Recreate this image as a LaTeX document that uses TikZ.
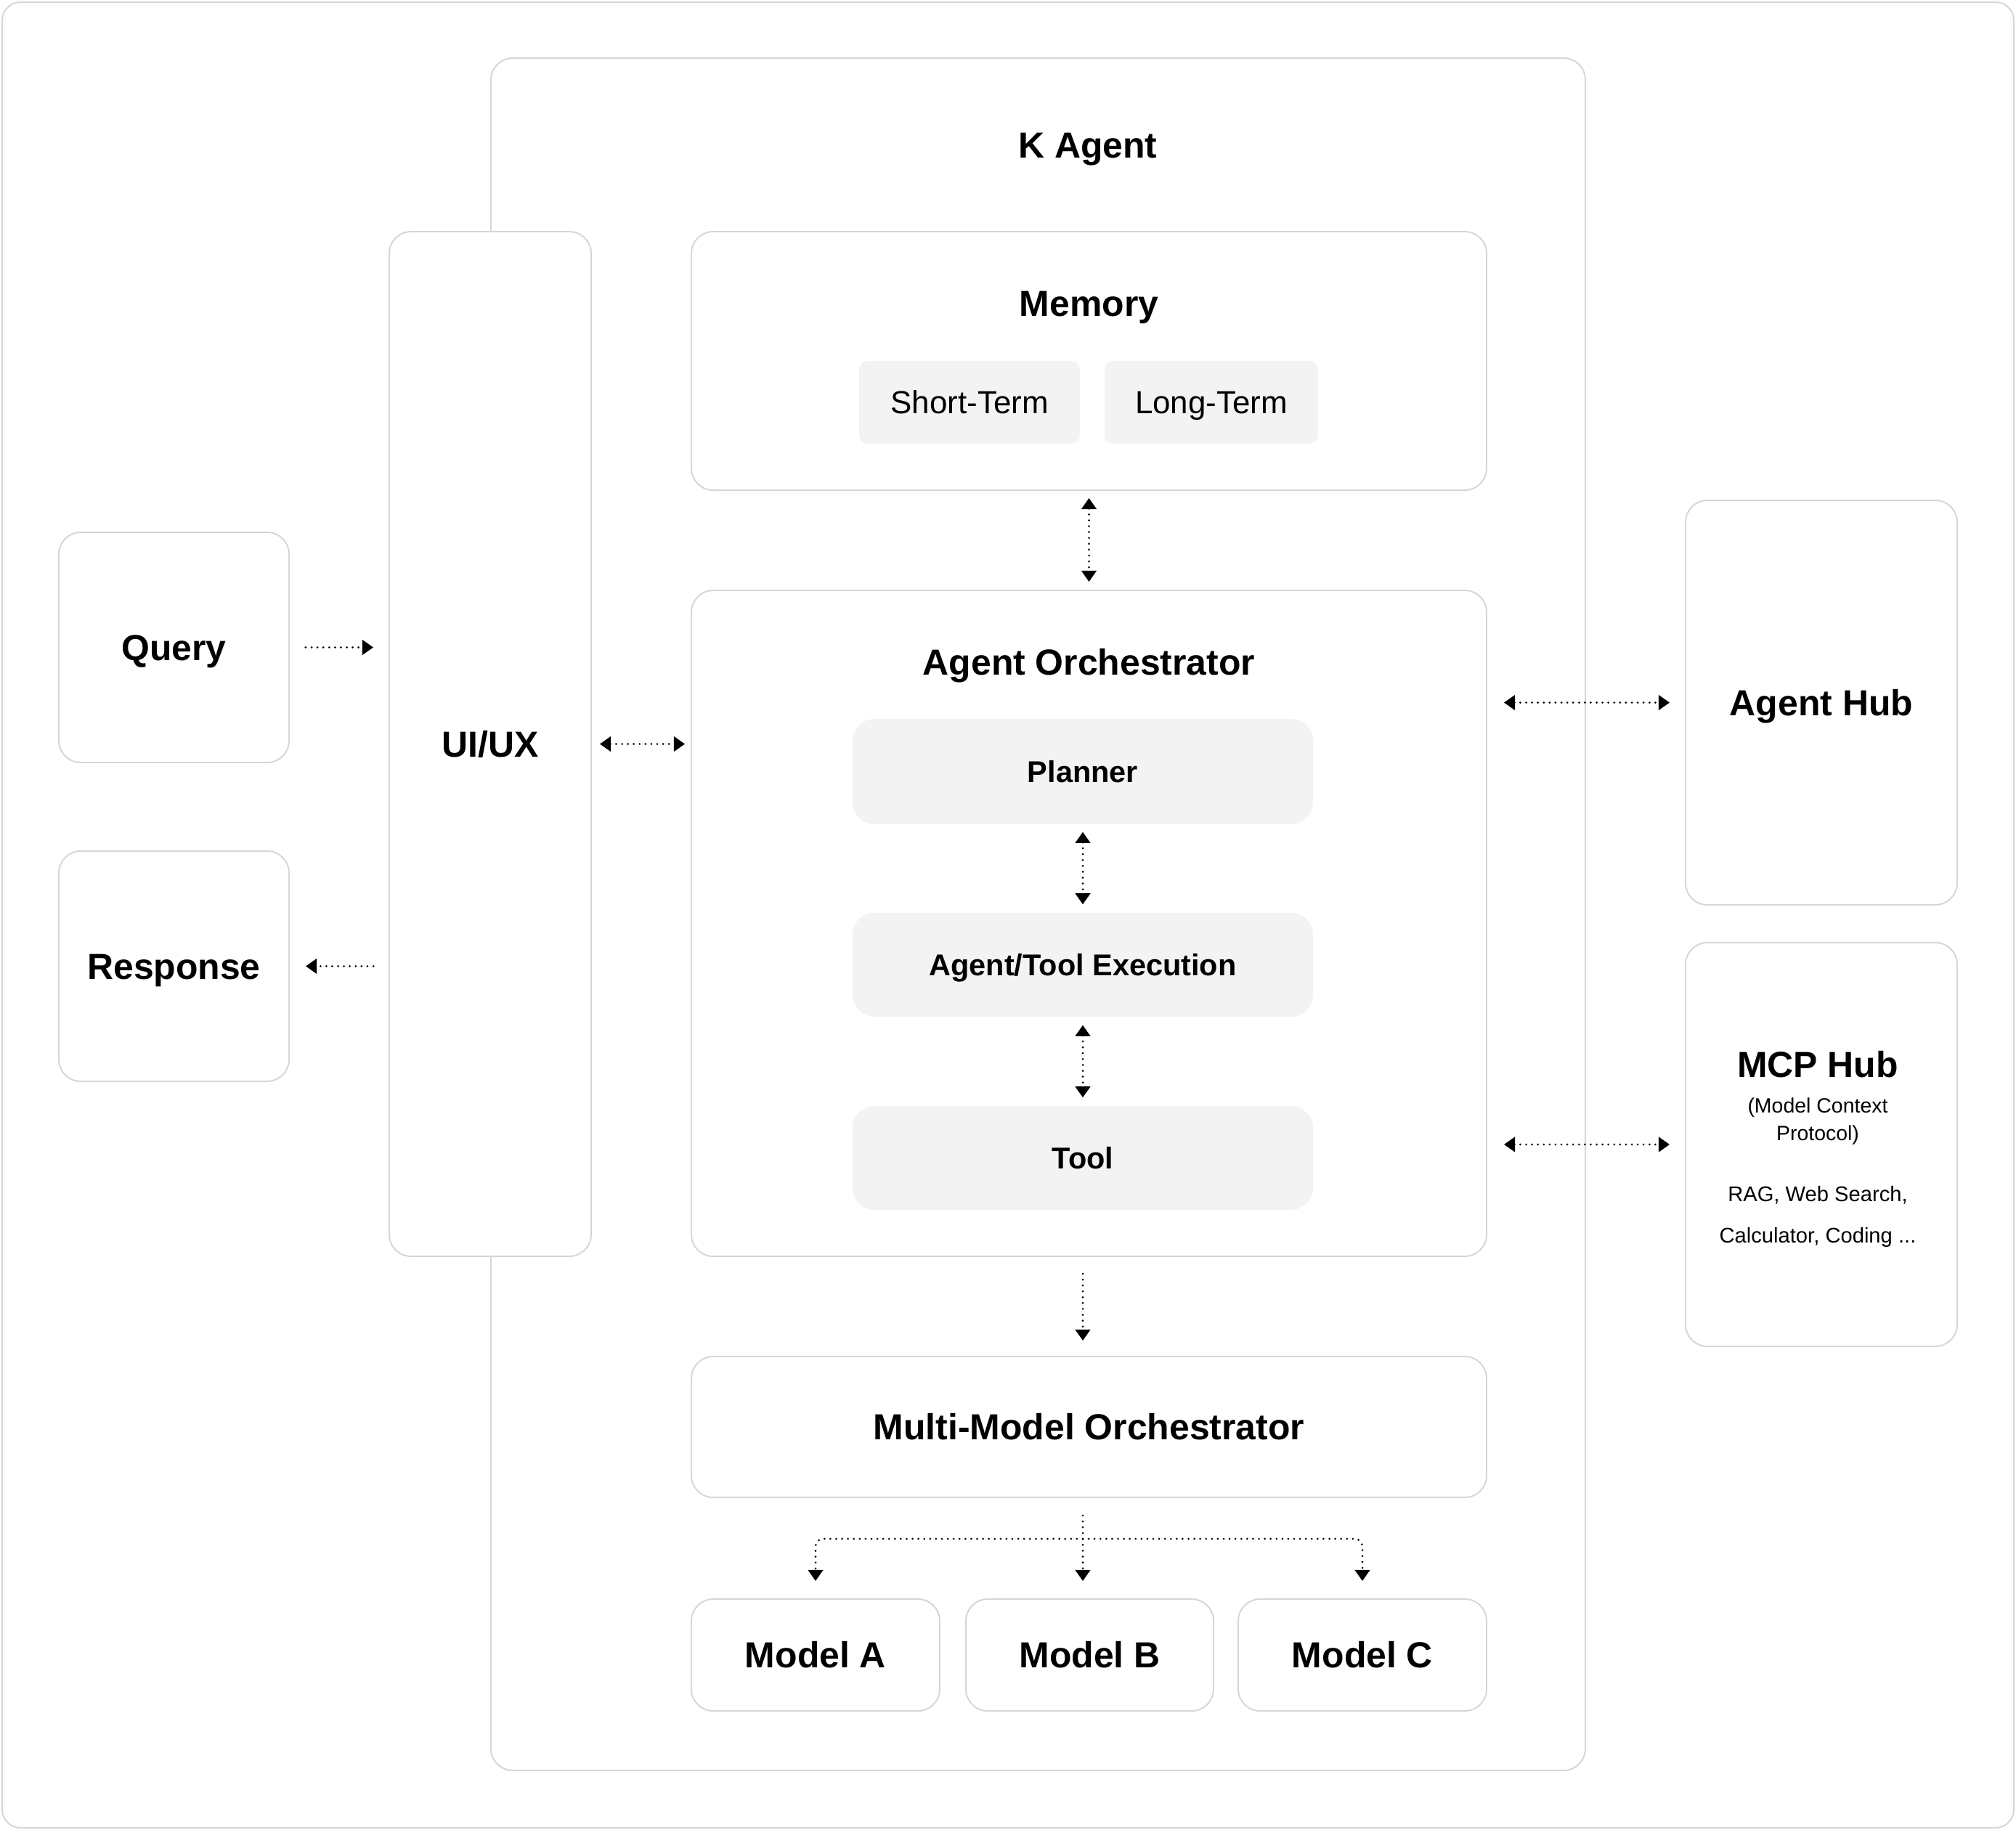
\documentclass[tikz,border=0pt]{standalone}
\usepackage{fontspec}
\setmainfont{Liberation Sans}
\usetikzlibrary{arrows.meta,calc}
\definecolor{bordergray}{HTML}{D6D6D6}
\definecolor{fillgray}{HTML}{F3F3F3}
\begin{document}
\begin{tikzpicture}[y=-1cm,
  box/.style={draw=bordergray, line width=0.55pt, fill=white, rounded corners=0.3cm, inner sep=0pt, align=center},
  graybox/.style={fill=fillgray, rounded corners=0.3cm, inner sep=0pt, align=center},
  titlefont/.style={font=\fontsize{14.2}{17}\selectfont\bfseries, text height=10.2pt, text depth=0pt},
  subfont/.style={font=\fontsize{11.8}{14}\selectfont\bfseries, text height=8.45pt, text depth=0pt},
  memfont/.style={font=\fontsize{12.5}{15}\selectfont, text height=8.95pt, text depth=0pt},
  dotline/.style={line width=0.85pt, dash pattern=on 0pt off 2.3pt, line cap=round},
  tipend/.style={-{Triangle[length=4.3pt,width=5.8pt]}},
  tipboth/.style={{Triangle[length=4.3pt,width=5.8pt]}-{Triangle[length=4.3pt,width=5.8pt]}},
]
\useasboundingbox (0,0) rectangle (27.76,25.20);
\node[box, rounded corners=0.25cm, minimum width=27.70cm, minimum height=25.14cm] (frame) at (13.88,12.60) {};

% K Agent container
\node[box, minimum width=15.07cm, minimum height=23.58cm] (kagent) at (14.295,12.59) {};
\node[titlefont] (kagentlabel) at (14.98,2.00) {K Agent};

% UI/UX
\node[box, titlefont, minimum width=2.78cm, minimum height=14.11cm] (ui) at (6.75,10.245) {UI/UX};

% Query / Response
\node[box, titlefont, minimum width=3.17cm, minimum height=3.17cm] (query) at (2.395,8.915) {Query};
\node[box, titlefont, minimum width=3.17cm, minimum height=3.17cm] (response) at (2.395,13.305) {Response};

% Memory
\node[box, minimum width=10.95cm, minimum height=3.56cm] (memory) at (14.995,4.97) {};
\node[titlefont] (memlabel) at (14.995,4.18) {Memory};
\node[graybox, memfont, rounded corners=0.12cm, minimum width=3.04cm, minimum height=1.14cm] (short) at (13.35,5.54) {Short-Term};
\node[graybox, memfont, rounded corners=0.12cm, minimum width=2.94cm, minimum height=1.14cm] (long) at (16.68,5.54) {Long-Term};

% Agent Orchestrator
\node[box, minimum width=10.95cm, minimum height=9.17cm] (ao) at (14.995,12.715) {};
\node[titlefont] (aolabel) at (14.995,9.12) {Agent Orchestrator};
\node[graybox, subfont, minimum width=6.34cm, minimum height=1.45cm] (planner) at (14.91,10.625) {Planner};
\node[graybox, subfont, minimum width=6.34cm, minimum height=1.43cm] (exec) at (14.91,13.285) {Agent/Tool Execution};
\node[graybox, subfont, minimum width=6.34cm, minimum height=1.43cm] (tool) at (14.91,15.945) {Tool};

% Multi-Model Orchestrator and models
\node[box, titlefont, minimum width=10.95cm, minimum height=1.94cm] (mmo) at (14.995,19.65) {Multi-Model Orchestrator};
\node[box, titlefont, minimum width=3.42cm, minimum height=1.54cm] (ma) at (11.23,22.79) {Model A};
\node[box, titlefont, minimum width=3.41cm, minimum height=1.54cm] (mb) at (15.005,22.79) {Model B};
\node[box, titlefont, minimum width=3.42cm, minimum height=1.54cm] (mc) at (18.76,22.79) {Model C};

% Hubs
\node[box, titlefont, minimum width=3.74cm, minimum height=5.57cm] (ahub) at (25.08,9.675) {Agent Hub};
\node[box, minimum width=3.74cm, minimum height=5.56cm] (mcp) at (25.08,15.76) {};
\node[titlefont] (mcptitle) at (25.03,14.66) {MCP Hub};
\node[font=\fontsize{8.1}{10.8}\selectfont, align=center] (mcpsub) at (25.03,15.44) {(Model Context\\Protocol)};
\node[font=\fontsize{8.3}{16.2}\selectfont, align=center] (mcptools) at (25.03,16.75) {RAG, Web Search,\\Calculator, Coding ...};

% Connectors
\draw[dotline, tipend, shorten <=0.22cm, shorten >=0.21cm] (query.east) -- (query.east -| ui.west);
\draw[dotline, tipend, shorten <=0.21cm, shorten >=0.22cm] (response.east -| ui.west) -- (response.east);
\draw[dotline, tipboth, shorten <=0.11cm, shorten >=0.08cm] (ui.east) -- (ui.east -| ao.west);
\draw[dotline, tipboth, shorten <=0.10cm, shorten >=0.11cm] (memory.south) -- (ao.north);
\draw[dotline, tipboth, shorten <=0.10cm, shorten >=0.11cm] (planner.south) -- (exec.north);
\draw[dotline, tipboth, shorten <=0.11cm, shorten >=0.11cm] (exec.south) -- (tool.north);
\draw[dotline, tipend, shorten <=0.23cm, shorten >=0.21cm] (planner.south |- ao.south) -- (planner.south |- mmo.north);
\draw[dotline, tipboth, shorten <=0.23cm, shorten >=0.21cm] (ahub.west -| ao.east) -- (ahub.west);
\draw[dotline, tipboth, shorten <=0.23cm, shorten >=0.21cm] (mcp.west -| ao.east) -- (mcp.west);

\coordinate (bus) at (14.91,21.19);
\draw[dotline, tipend, shorten <=0.24cm, shorten >=0.24cm] (planner.south |- mmo.south) -- (planner.south |- mb.north);
\draw[dotline, tipend, rounded corners=3pt, shorten >=0.24cm] (bus) -| (ma.north);
\draw[dotline, tipend, rounded corners=3pt, shorten >=0.24cm] (bus) -| (mc.north);
\end{tikzpicture}
\end{document}
